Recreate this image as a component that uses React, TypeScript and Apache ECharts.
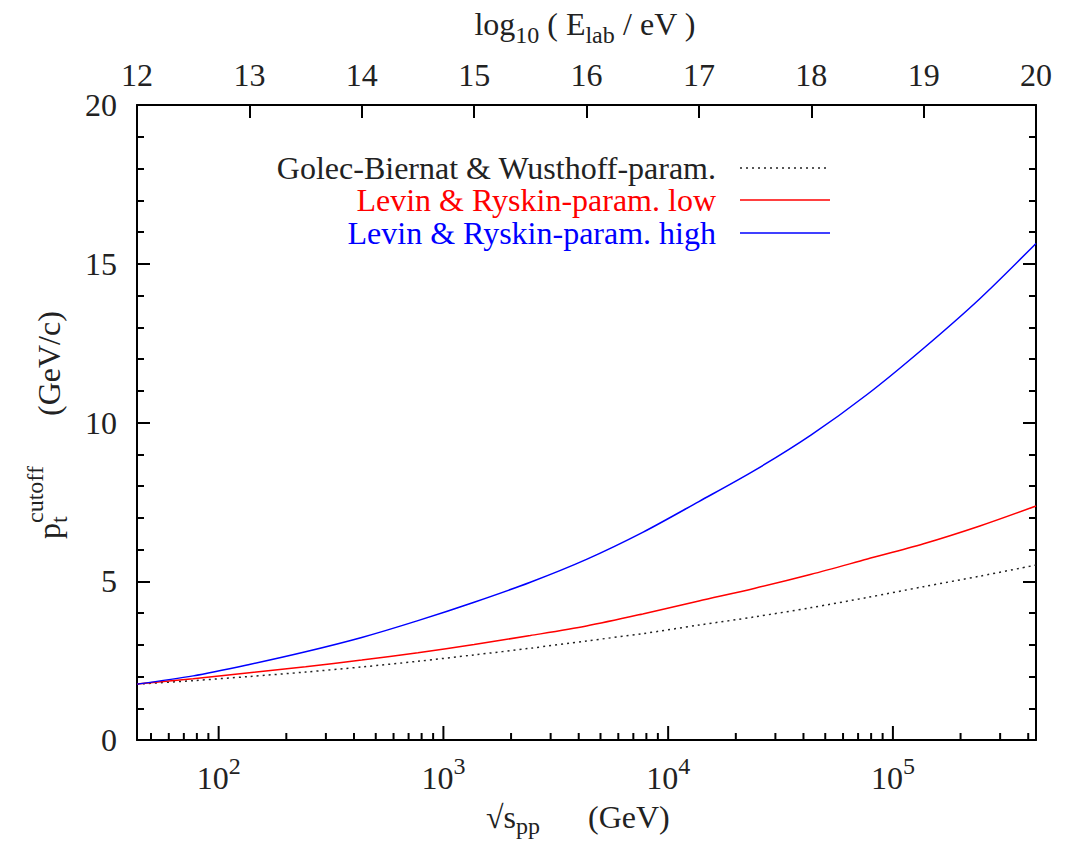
import React, { useEffect, useRef } from "react";
import * as echarts from "echarts";

// log10(E_lab / eV) sample points (top axis)
const eLab = [12, 12.5, 13, 13.5, 14, 14.5, 15, 15.5, 16, 16.5, 17, 17.5, 18, 18.5, 19, 19.5, 20];
// p_t cutoff (GeV/c)
const gbwParam = [1.76, 1.87, 2.0, 2.14, 2.3, 2.48, 2.68, 2.89, 3.12, 3.35, 3.62, 3.88, 4.17, 4.49, 4.83, 5.16, 5.51];
const lrLow = [1.76, 1.93, 2.12, 2.31, 2.52, 2.75, 3.01, 3.29, 3.59, 3.97, 4.38, 4.78, 5.22, 5.7, 6.18, 6.74, 7.37];
const lrHigh = [1.76, 2.02, 2.38, 2.78, 3.23, 3.76, 4.34, 4.97, 5.69, 6.54, 7.51, 8.5, 9.61, 10.89, 12.34, 13.9, 15.64];

const seriesNames = [
  "Golec-Biernat & Wusthoff-param.",
  "Levin & Ryskin-param. low",
  "Levin & Ryskin-param. high",
];
const seriesColors = ["#222222", "#ff0000", "#0000ff"];

// bottom axis: sqrt(s_pp) in GeV, decades and minor mantissas
const sqrtSExponents = [2, 3, 4, 5];
const minorDecades = [1, 2, 3, 4, 5];
const minorMantissas = [2, 3, 4, 5, 6, 7, 8, 9];

const PROTON_MASS = 0.938272; // GeV
const toElab = (sqrtS: number) => Math.log10((sqrtS * sqrtS) / (2 * PROTON_MASS)) + 9;
const toSqrtS = (e: number) => Math.sqrt(2 * PROTON_MASS * Math.pow(10, e - 9));

const FONT = "'Liberation Serif', 'Times New Roman', serif";
const TXT = "#222222";

export default function App() {
  const ref = useRef<HTMLDivElement>(null);

  useEffect(() => {
    if (!ref.current) return;
    const chart = echarts.init(ref.current, undefined, { renderer: "svg" });

    const majorVals = sqrtSExponents.map((k) => toElab(Math.pow(10, k)));
    const minorVals: number[] = [];
    minorDecades.forEach((k) =>
      minorMantissas.forEach((m) => {
        const v = toElab(m * Math.pow(10, k));
        if (v >= 12 && v <= 20) minorVals.push(v);
      })
    );

    const axisLineStyle = { color: "#000", width: 2 };
    const legendRowsY = [168, 200, 233];

    // bottom-axis (sqrt s) ticks drawn through the axis scale (custom series)
    const tickSeries = (vals: number[], len: number) => ({
      type: "custom",
      xAxisIndex: 0,
      yAxisIndex: 0,
      silent: true,
      clip: false,
      z: 4,
      data: vals.map((v) => [v, 0]),
      renderItem: (_params: any, api: any) => {
        const p = api.coord([api.value(0), api.value(1)]);
        return {
          type: "line",
          shape: { x1: p[0], y1: p[1], x2: p[0], y2: p[1] - len },
          style: { stroke: "#000", lineWidth: 2 },
        };
      },
    });

    const option: any = {
      animation: false,
      backgroundColor: "#fff",
      grid: { left: 137, top: 105, width: 899, height: 635, containLabel: false },
      xAxis: [
        {
          type: "value",
          position: "top",
          min: 12,
          max: 20,
          interval: 1,
          axisLine: { show: true, onZero: false, lineStyle: axisLineStyle },
          axisTick: { show: true, inside: true, length: 13, lineStyle: axisLineStyle },
          axisLabel: { fontSize: 32, fontFamily: FONT, color: TXT, margin: 14 },
          splitLine: { show: false },
        },
        {
          type: "value",
          position: "bottom",
          min: 12,
          max: 20,
          axisLine: { show: true, onZero: false, lineStyle: axisLineStyle },
          axisTick: { show: false },
          axisLabel: {
            customValues: majorVals,
            margin: 14,
            formatter: (v: number) => {
              const k = Math.round(Math.log10(toSqrtS(v)));
              return "{b|10}{s|" + k + "}";
            },
            rich: {
              b: { fontSize: 32, fontFamily: FONT, color: TXT, lineHeight: 48 },
              s: { fontSize: 24, fontFamily: FONT, color: TXT, verticalAlign: "top" },
            },
          },
          splitLine: { show: false },
        },
      ],
      yAxis: [
        {
          type: "value",
          position: "left",
          min: 0,
          max: 20,
          interval: 5,
          axisLine: { show: true, onZero: false, lineStyle: axisLineStyle },
          axisTick: { show: true, inside: true, length: 13, lineStyle: axisLineStyle },
          minorTick: { show: true, splitNumber: 5, length: 7, lineStyle: axisLineStyle },
          axisLabel: { fontSize: 32, fontFamily: FONT, color: TXT, margin: 20 },
          splitLine: { show: false },
          minorSplitLine: { show: false },
        },
        {
          type: "value",
          position: "right",
          min: 0,
          max: 20,
          interval: 5,
          axisLine: { show: true, onZero: false, lineStyle: axisLineStyle },
          axisTick: { show: true, inside: true, length: 13, lineStyle: axisLineStyle },
          minorTick: { show: true, splitNumber: 5, length: 7, lineStyle: axisLineStyle },
          axisLabel: { show: false },
          splitLine: { show: false },
          minorSplitLine: { show: false },
        },
      ],
      series: [
        ...[gbwParam, lrLow, lrHigh].map((vals, i) => ({
          name: seriesNames[i],
          type: "line",
          xAxisIndex: 0,
          yAxisIndex: 0,
          data: eLab.map((e, j) => [e, vals[j]]),
          showSymbol: false,
          smooth: 0.3,
          lineStyle: {
            color: seriesColors[i],
            width: 1.5,
            type: i === 0 ? [2, 4] : "solid",
          },
          itemStyle: { color: seriesColors[i] },
          z: 3,
        })),
        tickSeries(majorVals, 14),
        tickSeries(minorVals, 7),
      ],
      graphic: [
        // legend
        ...seriesNames.map((n, i) => ({
          type: "text",
          x: 716,
          y: legendRowsY[i],
          style: {
            text: n,
            align: "right",
            verticalAlign: "middle",
            fontSize: 32,
            lineHeight: 30,
            fontFamily: FONT,
            fill: i === 0 ? TXT : seriesColors[i],
          },
        })),
        ...seriesNames.map((n, i) => ({
          type: "line",
          shape: { x1: 740, y1: legendRowsY[i], x2: 830, y2: legendRowsY[i] },
          style: {
            stroke: seriesColors[i],
            lineWidth: 1.5,
            lineDash: i === 0 ? [2, 4] : null,
          },
        })),
        // top axis title
        {
          type: "text",
          x: 585,
          y: 24,
          style: {
            text: "{m|log}{s|10}{m| ( E}{s|lab}{m| / eV )}",
            align: "center",
            verticalAlign: "middle",
            rich: {
              m: { fontSize: 32, fontFamily: FONT, fill: TXT, lineHeight: 46 },
              s: { fontSize: 24, fontFamily: FONT, fill: TXT, verticalAlign: "bottom" },
            },
          },
        },
        // bottom axis title
        {
          type: "text",
          x: 486,
          y: 817,
          style: {
            text: "{m|√s}{s|pp}{m|      (GeV)}",
            align: "left",
            verticalAlign: "middle",
            rich: {
              m: { fontSize: 32, fontFamily: FONT, fill: TXT, lineHeight: 42 },
              s: { fontSize: 24, fontFamily: FONT, fill: TXT, verticalAlign: "bottom" },
            },
          },
        },
        // y axis title (rotated)
        {
          type: "group",
          x: 49,
          y: 426,
          rotation: Math.PI / 2,
          children: [
            {
              type: "text",
              x: -113,
              y: 0,
              style: { text: "p", align: "left", verticalAlign: "middle", fontSize: 32, fontFamily: FONT, fill: TXT },
            },
            {
              type: "text",
              x: -97,
              y: 10,
              style: { text: "t", align: "left", verticalAlign: "middle", fontSize: 24, fontFamily: FONT, fill: TXT },
            },
            {
              type: "text",
              x: -97,
              y: -14,
              style: { text: "cutoff", align: "left", verticalAlign: "middle", fontSize: 24, fontFamily: FONT, fill: TXT },
            },
            {
              type: "text",
              x: 10,
              y: 0,
              style: { text: "(GeV/c)", align: "left", verticalAlign: "middle", fontSize: 32, fontFamily: FONT, fill: TXT },
            },
          ],
        },
      ],
    };

    chart.setOption(option);
    return () => chart.dispose();
  }, []);

  return (
    <div
      ref={ref}
      style={{ position: "absolute", left: 0, top: 0, width: 1074, height: 843, background: "#fff" }}
    />
  );
}
